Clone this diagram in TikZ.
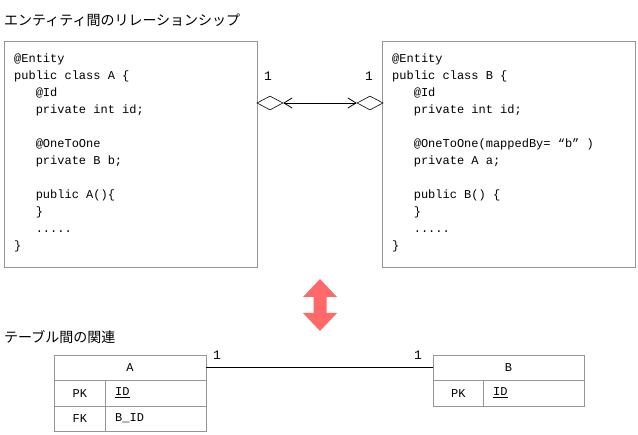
\documentclass[tikz,border=0pt]{standalone}
\usepackage{fontspec}
\setmainfont{Liberation Sans}
\newfontfamily\jpfont{Noto Sans CJK JP}
\newfontfamily\codefont{Liberation Mono}
\usetikzlibrary{arrows.meta,shapes.geometric}
\definecolor{bordergray}{RGB}{150,150,150}
\definecolor{arrowred}{RGB}{255,105,105}
\newcommand{\ind}{\hspace*{21.6pt}}
\begin{document}
\begin{tikzpicture}[x=1pt,y=-1pt,
  codebox/.style={draw=bordergray,line width=0.8pt,minimum width=253pt,minimum height=226pt,inner sep=0pt},
  codetext/.style={font=\codefont\fontsize{12}{17}\selectfont,align=left,anchor=north west,inner sep=0pt},
  jptext/.style={font=\jpfont\fontsize{14}{16}\selectfont,anchor=west,inner sep=0pt},
  mult/.style={font=\codefont\fontsize{13}{14}\selectfont,inner sep=0pt},
  dia/.style={draw,diamond,inner sep=0pt,minimum width=26pt,minimum height=14pt,line width=0.6pt},
  cell/.style={draw=bordergray,line width=0.8pt,inner sep=0pt,font=\codefont\fontsize{12}{14}\selectfont},
  rel/.style={draw,line width=0.8pt}
]
\useasboundingbox (0,0) rectangle (638,435);

\node[jptext] (h1) at (4,20) {エンティティ間のリレーションシップ};
\node[jptext] (h2) at (4,337) {テーブル間の関連};

% code boxes
\node[codebox] (boxA) at (130.5,154) {};
\node[codebox] (boxB) at (508.5,154) {};
\node[codetext] (codeA) at (14,54) {@Entity\\public class A \{\\\ind @Id\\\ind private int id;\\[17pt]\ind @OneToOne\\\ind private B b;\\[17pt]\ind public A()\{\\\ind \}\\\ind .....\\\}};
\node[codetext] (codeB) at (392,54) {@Entity\\public class B \{\\\ind @Id\\\ind private int id;\\[17pt]\ind @OneToOne(mappedBy= “b” )\\\ind private A a;\\[17pt]\ind public B() \{\\\ind \}\\\ind .....\\\}};

% diamonds and relationship
\node[dia] (dA) at (270,103) {};
\node[dia] (dB) at (370,103) {};
\draw[line width=0.8pt,{Straight Barb[length=8pt,width=10pt]}-{Straight Barb[length=8pt,width=10pt]}] (dA.east) -- (dB.west);
\node[mult] (m1) at (268,76) {1};
\node[mult] (m2) at (369,76) {1};

% red double arrow
\fill[arrowred] (320,279) -- (337,297) -- (326.5,297) -- (326.5,313) -- (337,313) -- (320,331)
  -- (303,313) -- (313.5,313) -- (313.5,297) -- (303,297) -- cycle;

% table A
\node[cell,minimum width=152pt,minimum height=25pt] (tAh) at (130,367.5) {A};
\node[cell,minimum width=51pt,minimum height=26pt,anchor=north west] (tApk) at (54,380) {PK};
\node[cell,minimum width=101pt,minimum height=26pt,anchor=north west] (tAid) at (105,380) {};
\node[cell,minimum width=51pt,minimum height=25pt,anchor=north west] (tAfk) at (54,406) {FK};
\node[cell,minimum width=101pt,minimum height=25pt,anchor=north west] (tAbid) at (105,406) {};
\node[inner sep=0pt,anchor=west,font=\codefont\fontsize{12}{14}\selectfont] (tAidt) at (115,393) {\underline{ID}};
\node[inner sep=0pt,anchor=west,font=\codefont\fontsize{12}{14}\selectfont] (tAbidt) at (115,418.5) {B\_ID};

% table B
\node[cell,minimum width=151pt,minimum height=25pt] (tBh) at (508.5,367.5) {B};
\node[cell,minimum width=50pt,minimum height=26pt,anchor=north west] (tBpk) at (433,380) {PK};
\node[cell,minimum width=101pt,minimum height=26pt,anchor=north west] (tBid) at (483,380) {};
\node[inner sep=0pt,anchor=west,font=\codefont\fontsize{12}{14}\selectfont] (tBidt) at (493,393) {\underline{ID}};

\draw[rel] (tAh.east) -- (tBh.west);
\node[mult] (m3) at (217,355) {1};
\node[mult] (m4) at (418,355) {1};
\end{tikzpicture}
\end{document}
